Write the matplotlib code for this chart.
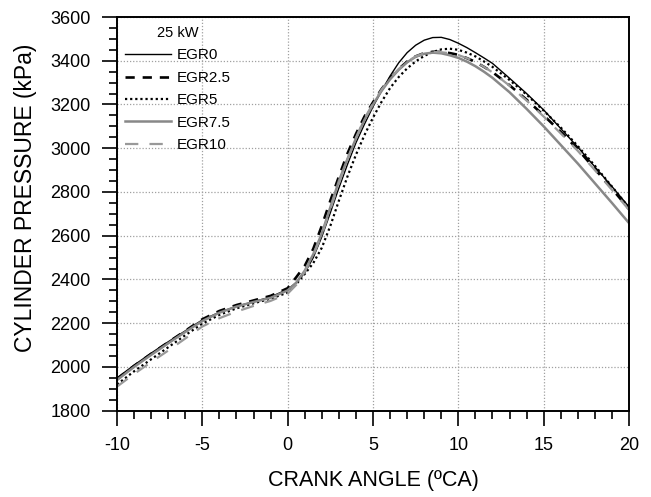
import matplotlib
matplotlib.use("Agg")
import matplotlib.pyplot as plt
from matplotlib.ticker import MultipleLocator

plt.rcParams['font.family'] = ['Liberation Sans', 'DejaVu Sans']
plt.rcParams['axes.unicode_minus'] = False

# crank angle (deg) shared by all curves
crank = [-10, -9, -8, -7, -6, -5, -4, -3, -2, -1,
         0, 0.5, 1, 1.5, 2, 2.5, 3, 3.5, 4, 4.5, 5, 5.5, 6, 6.5, 7, 7.5, 8, 8.5, 9, 9.5,
         10, 10.5, 11, 11.5, 12, 13, 14, 15, 16, 17, 18, 19, 20]

egr0 = [1950, 2008, 2063, 2115, 2165, 2215, 2250, 2277, 2298, 2320,
        2355, 2385, 2430, 2500, 2595, 2705, 2818, 2925, 3025, 3110, 3190, 3262, 3330, 3390, 3437,
        3471, 3494, 3506, 3507, 3497,
        3480, 3460, 3437, 3413, 3388, 3320, 3250, 3175, 3090, 3005, 2915, 2825, 2732]
egr25 = [1945, 2005, 2060, 2113, 2165, 2218, 2256, 2283, 2304, 2325,
         2360, 2410, 2462, 2540, 2645, 2760, 2870, 2975, 3065, 3145, 3210, 3270, 3320, 3362, 3396,
         3420, 3435, 3441, 3440, 3435,
         3427, 3412, 3395, 3372, 3348, 3288, 3222, 3150, 3075, 2995, 2905, 2815, 2722]
egr5 = [1920, 1980, 2035, 2090, 2145, 2198, 2238, 2268, 2291, 2312,
        2340, 2378, 2425, 2475, 2545, 2645, 2760, 2870, 2970, 3060, 3140, 3212, 3275, 3325, 3365,
        3397, 3422, 3440, 3452, 3455,
        3450, 3437, 3420, 3397, 3372, 3312, 3245, 3172, 3095, 3010, 2920, 2825, 2728]
egr75 = [1940, 2000, 2055, 2108, 2160, 2210, 2248, 2276, 2297, 2316,
         2350, 2385, 2440, 2515, 2610, 2730, 2850, 2950, 3045, 3130, 3200, 3262, 3315, 3358, 3393,
         3418, 3432, 3437, 3434, 3425,
         3413, 3396, 3375, 3350, 3322, 3256, 3180, 3100, 3015, 2930, 2840, 2750, 2658]
egr10 = [1910, 1968, 2022, 2075, 2130, 2185, 2223, 2253, 2279, 2302,
         2335, 2375, 2435, 2510, 2605, 2720, 2838, 2948, 3048, 3135, 3205, 3268, 3320, 3362, 3395,
         3420, 3434, 3440, 3439, 3434,
         3426, 3412, 3395, 3372, 3347, 3286, 3218, 3145, 3068, 2988, 2900, 2810, 2718]

fig, ax = plt.subplots(figsize=(6.51, 4.97), dpi=100)
fig.subplots_adjust(left=117/651, right=629/651, bottom=1-410.7/497, top=1-17/497)

ax.plot(crank, egr0, color='black', lw=1.0, label='EGR0')
ax.plot(crank, egr25, color='black', lw=1.9, dashes=(3.5, 3.0), label='EGR2.5')
ax.plot(crank, egr5, color='black', lw=1.6, linestyle=(0, (1, 1.3)), label='EGR5')
ax.plot(crank, egr75, color='#888888', lw=1.8, label='EGR7.5')
ax.plot(crank, egr10, color='#999999', lw=1.6, dashes=(6, 5), label='EGR10')

ax.set_xlim(-10, 20)
ax.set_ylim(1800, 3600)
ax.xaxis.set_major_locator(MultipleLocator(5))
ax.xaxis.set_minor_locator(MultipleLocator(1))
ax.yaxis.set_major_locator(MultipleLocator(200))
ax.yaxis.set_minor_locator(MultipleLocator(50))
ax.tick_params(which='major', direction='out', length=11, width=1.2, labelsize=13, pad=8)
ax.tick_params(which='minor', direction='out', length=5.5, width=1.2)
ax.grid(True, which='major', color='#a0a0a0', lw=0.9, linestyle=(0, (1, 1.5)))
for s in ax.spines.values():
    s.set_linewidth(1.4)

ax.set_xlabel('CRANK ANGLE (ºCA)', fontsize=15.5)
ax.set_ylabel('CYLINDER PRESSURE (kPa)', fontsize=16.5)
ax.xaxis.set_label_coords(0.5, -0.151)
ax.yaxis.set_label_coords(-0.156, 0.54)

leg = ax.legend(loc='upper left', bbox_to_anchor=(0.0156, 0.977), frameon=False,
                fontsize=11, title='25 kW', title_fontsize=10.5, handlelength=3.0,
                handletextpad=0.4, labelspacing=0.55, borderpad=0, borderaxespad=0)

fig.savefig('out.png', dpi=100)
